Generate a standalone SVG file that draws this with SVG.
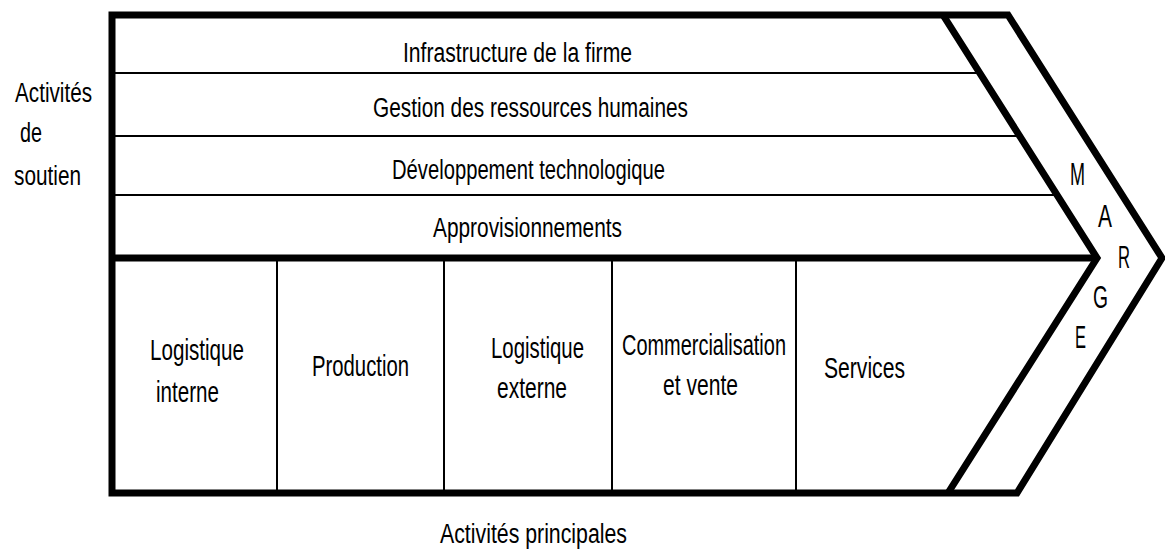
<svg xmlns="http://www.w3.org/2000/svg" width="1165" height="551" viewBox="0 0 1165 551">
<style>
.t{font-family:"Liberation Sans",Arial,sans-serif;fill:#000;}
.s{font-size:27px;}
.p{font-size:30px;}
.m{font-size:31px;}
.thick{stroke:#000;stroke-width:7;fill:none;stroke-linejoin:miter;}
.thin{stroke:#000;stroke-width:2;fill:none;}
</style>
<rect width="1165" height="551" fill="#fff"/>
<g id="connectors">
<line class="thin" x1="112" y1="73" x2="980" y2="73"/>
<line class="thin" x1="112" y1="136" x2="1020" y2="136"/>
<line class="thin" x1="112" y1="195" x2="1057" y2="195"/>
<line class="thin" x1="277" y1="258" x2="277" y2="493"/>
<line class="thin" x1="444" y1="258" x2="444" y2="493"/>
<line class="thin" x1="612" y1="258" x2="612" y2="493"/>
<line class="thin" x1="796" y1="258" x2="796" y2="493"/>
<polygon class="thick" points="112,15 1008,15 1162,258 1017,493 112,493"/>
<polyline class="thick" points="943,15 1097,258 948,493"/>
<line class="thick" x1="112" y1="258" x2="1097" y2="258"/>
</g>
<g id="support-label">
<text class="t s" x="15" y="102" textLength="77" lengthAdjust="spacingAndGlyphs">Activités</text>
<text class="t s" x="20" y="142" textLength="22" lengthAdjust="spacingAndGlyphs">de</text>
<text class="t s" x="14" y="185" textLength="67" lengthAdjust="spacingAndGlyphs">soutien</text>
</g>
<g id="infrastructure">
<text class="t s" x="403" y="62" textLength="229" lengthAdjust="spacingAndGlyphs">Infrastructure de la firme</text>
</g>
<g id="grh">
<text class="t s" x="373" y="117" textLength="315" lengthAdjust="spacingAndGlyphs">Gestion des ressources humaines</text>
</g>
<g id="developpement">
<text class="t s" x="392" y="179" textLength="273" lengthAdjust="spacingAndGlyphs">Développement technologique</text>
</g>
<g id="approvisionnements">
<text class="t s" x="433" y="237" textLength="189" lengthAdjust="spacingAndGlyphs">Approvisionnements</text>
</g>
<g id="logistique-interne">
<text class="t p" x="150" y="360" textLength="94" lengthAdjust="spacingAndGlyphs">Logistique</text>
<text class="t p" x="156" y="402" textLength="63" lengthAdjust="spacingAndGlyphs">interne</text>
</g>
<g id="production">
<text class="t p" x="312" y="376" textLength="97" lengthAdjust="spacingAndGlyphs">Production</text>
</g>
<g id="logistique-externe">
<text class="t p" x="491" y="358" textLength="93" lengthAdjust="spacingAndGlyphs">Logistique</text>
<text class="t p" x="497" y="398" textLength="70" lengthAdjust="spacingAndGlyphs">externe</text>
</g>
<g id="commercialisation">
<text class="t p" transform="translate(622,355) scale(0.665,1)" x="0" y="0" textLength="246.6" lengthAdjust="spacingAndGlyphs">Commercialisation</text>
<text class="t p" x="663" y="395" textLength="75" lengthAdjust="spacingAndGlyphs">et vente</text>
</g>
<g id="services">
<text class="t p" x="824" y="378" textLength="81" lengthAdjust="spacingAndGlyphs">Services</text>
</g>
<g id="marge">
<text class="t m" x="1070" y="185" textLength="15" lengthAdjust="spacingAndGlyphs">M</text>
<text class="t m" x="1098" y="227" textLength="14" lengthAdjust="spacingAndGlyphs">A</text>
<text class="t m" x="1118" y="268" textLength="12" lengthAdjust="spacingAndGlyphs">R</text>
<text class="t m" x="1093" y="308" textLength="15" lengthAdjust="spacingAndGlyphs">G</text>
<text class="t m" x="1075" y="348" textLength="11" lengthAdjust="spacingAndGlyphs">E</text>
</g>
<g id="primary-label">
<text class="t s" x="440" y="543" textLength="187" lengthAdjust="spacingAndGlyphs">Activités principales</text>
</g>
</svg>
